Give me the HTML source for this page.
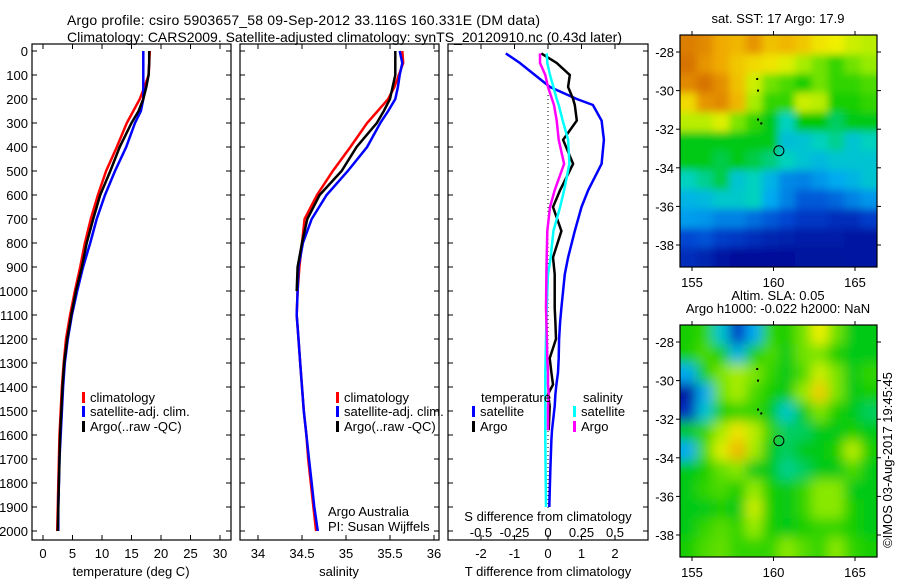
<!DOCTYPE html>
<html><head><meta charset="utf-8"><style>
html,body{margin:0;padding:0;background:#fff;}
svg{display:block;font-family:"Liberation Sans",sans-serif;}
text{fill:#000;}
</style></head><body>
<svg id="fig" width="900" height="580" viewBox="0 0 900 580">
<defs>
<filter id="blurSST" filterUnits="userSpaceOnUse" x="640" y="0" width="280" height="310"><feGaussianBlur stdDeviation="4"/></filter>
<filter id="blurSLA" filterUnits="userSpaceOnUse" x="640" y="290" width="280" height="310"><feGaussianBlur stdDeviation="6"/></filter>
<clipPath id="clipSST"><rect x="680" y="35" width="197" height="232"/></clipPath>
<clipPath id="clipSLA"><rect x="680" y="325" width="197" height="232"/></clipPath>
</defs>
<text x="67" y="25" font-size="14" text-anchor="start" textLength="473">Argo profile: csiro 5903657_58 09-Sep-2012 33.116S 160.331E (DM data)</text>
<text x="67" y="42" font-size="14" text-anchor="start" textLength="555">Climatology: CARS2009. Satellite-adjusted climatology: synTS_20120910.nc (0.43d later)</text>
<g id="layer"></g>
<text transform="translate(892,460) rotate(-90)" font-size="13" text-anchor="middle">©IMOS 03-Aug-2017 19:45:45</text>
</svg>
<script>
// ---------- data ----------
const depthTicks=[0,100,200,300,400,500,600,700,800,900,1000,1100,1200,1300,1400,1500,1600,1700,1800,1900,2000];
const tempTicks=[0,5,10,15,20,25,30];
const salTicks=[34,34.5,35,35.5,36];
const tdiffTicks=[-2,-1,0,1,2];
const sdiffTicks=[-0.5,-0.25,0,0.25,0.5];
const sdiffTickLabels=["-0.5","-0.25","0","0.25","0.5"];
const profDepth=[0,50,100,150,200,250,300,400,500,600,700,800,900,1000,1100,1200,1300,1400,1500,1600,1700,1800,1900,2000];
const tempClim=[18.1,18.0,17.9,17.2,16.4,15.3,14.2,12.5,10.7,9.3,8.1,7.1,6.3,5.4,4.6,3.9,3.5,3.2,3.0,2.8,2.7,2.6,2.5,2.4];
const tempSat=[17.0,17.0,17.0,17.0,17.0,16.6,15.6,14.1,12.2,10.5,9.1,8.0,6.8,5.8,4.9,4.2,3.7,3.4,3.2,3.0,2.8,2.7,2.6,2.6];
const tempArgo=[18.0,18.0,17.9,17.5,17.0,16.2,15.0,13.0,11.4,9.7,8.5,7.4,6.6,5.6,4.8,4.1,3.6,3.3,3.1,2.9,2.8,2.7,2.6,2.5];
const salClim=[35.64,35.65,35.6,35.55,35.48,35.36,35.24,35.05,34.85,34.67,34.53,34.5,34.47,34.45,34.44,34.46,34.48,34.5,34.52,34.55,34.57,34.6,34.63,34.66];
const salSat=[35.61,35.64,35.61,35.59,35.56,35.48,35.39,35.24,35.02,34.78,34.61,34.51,34.46,34.45,34.44,34.46,34.48,34.5,34.52,34.55,34.58,34.61,34.64,34.68];
const salArgo=[35.56,35.56,35.56,35.53,35.5,35.43,35.35,35.12,34.95,34.7,34.56,34.5,34.45,34.44];
const diffDepth=[10,50,100,150,200,225,290,370,470,580,650,750,860,930,1070,1130,1200,1280,1340,1390,1430,1480,1580,1620,1750,1900];
const tdiffSat=[-1.26,-0.84,-0.39,0.06,0.86,1.34,1.6,1.67,1.6,1.2,1.0,0.8,0.6,0.5,0.4,0.36,0.33,0.32,0.3,0.25,0.22,0.2,0.12,0.1,0.07,0.04];
const tdiffArgo=[-0.2,0.26,0.65,0.6,0.75,0.8,0.86,0.45,0.75,0.36,0.15,0.4,0.15,0.2,0.2,0.22,0.24,0.05,0.1,0.15,0.0,0.05,0.02];
const sdiffSat=[-0.01,-0.005,0.015,0.04,0.065,0.08,0.11,0.15,0.16,0.12,0.09,0.04,0.02,0.0,-0.01,-0.012,-0.015,-0.018,-0.02,-0.02,-0.02,-0.02,-0.02,-0.02,-0.018,-0.015];
const sdiffArgo=[-0.06,-0.06,-0.02,0.0,0.03,0.045,0.065,0.08,0.12,0.05,0.015,-0.005,-0.01,-0.012,-0.015,-0.012,-0.008,-0.005,0.0,0.0,0.005,0.0,0.0];
const lonTicks=[155,160,165];
const latTicks=[-28,-30,-32,-34,-36,-38];
const argoLon=160.331, argoLat=-33.116;
const sstGrid=[
[0.88,0.86,0.8,0.78,0.84,0.76,0.78,0.75,0.7,0.68,0.64,0.62],
[0.9,0.84,0.8,0.75,0.72,0.7,0.66,0.6,0.55,0.5,0.55,0.58],
[0.86,0.9,0.85,0.76,0.64,0.55,0.52,0.48,0.55,0.5,0.5,0.52],
[0.72,0.84,0.86,0.78,0.6,0.5,0.5,0.64,0.62,0.48,0.48,0.5],
[0.62,0.62,0.66,0.56,0.5,0.45,0.38,0.46,0.46,0.42,0.45,0.45],
[0.45,0.45,0.45,0.45,0.45,0.45,0.34,0.35,0.38,0.4,0.35,0.38],
[0.45,0.45,0.43,0.45,0.43,0.41,0.38,0.35,0.33,0.35,0.35,0.35],
[0.38,0.4,0.43,0.35,0.38,0.32,0.25,0.24,0.27,0.3,0.32,0.35],
[0.32,0.33,0.36,0.36,0.38,0.3,0.24,0.18,0.18,0.2,0.24,0.27],
[0.28,0.27,0.24,0.24,0.21,0.18,0.15,0.12,0.12,0.1,0.1,0.13],
[0.15,0.17,0.13,0.12,0.1,0.08,0.07,0.06,0.06,0.06,0.05,0.05],
[0.1,0.08,0.05,0.03,0.03,0.03,0.03,0.04,0.04,0.04,0.05,0.05]];
const slaGrid=[
[0.48,0.5,0.35,0.12,0.3,0.5,0.48,0.55,0.68,0.55,0.45,0.45],
[0.48,0.52,0.48,0.32,0.48,0.52,0.45,0.55,0.56,0.48,0.45,0.45],
[0.3,0.48,0.56,0.6,0.56,0.5,0.45,0.52,0.64,0.56,0.45,0.5],
[0.05,0.3,0.55,0.6,0.52,0.48,0.45,0.58,0.74,0.56,0.45,0.48],
[0.1,0.35,0.48,0.5,0.5,0.45,0.36,0.45,0.56,0.48,0.45,0.42],
[0.45,0.5,0.6,0.7,0.62,0.5,0.42,0.42,0.45,0.45,0.48,0.45],
[0.3,0.52,0.66,0.78,0.6,0.45,0.42,0.45,0.45,0.48,0.62,0.48],
[0.45,0.48,0.54,0.57,0.45,0.45,0.4,0.42,0.45,0.45,0.52,0.45],
[0.45,0.5,0.52,0.48,0.58,0.48,0.45,0.5,0.57,0.57,0.45,0.45],
[0.45,0.45,0.48,0.45,0.64,0.48,0.45,0.5,0.57,0.57,0.48,0.45],
[0.45,0.5,0.53,0.5,0.58,0.48,0.45,0.48,0.5,0.5,0.48,0.45],
[0.48,0.52,0.54,0.5,0.5,0.5,0.57,0.53,0.5,0.57,0.5,0.48]];

// ---------- helpers ----------
const NS="http://www.w3.org/2000/svg";
const layer=document.getElementById('layer');
function mk(tag,attrs,parent){const e=document.createElementNS(NS,tag);for(const k in attrs)e.setAttribute(k,attrs[k]);(parent||layer).appendChild(e);return e;}
function txt(x,y,s,size,anchor,parent){const e=mk('text',{x:x,y:y,'font-size':size,'text-anchor':anchor||'start'},parent);e.textContent=s;return e;}
const yD=d=>51+0.24*d;
const xT=t=>43+5.9*t;
const xS=s=>258+88*(s-34);
const xTd=t=>548+33.5*t;
const xSd=s=>548+134*s;
const xLon=l=>692+(l-155)*16.3;
const yLatTop=l=>52+(-28-l)*19.3;
const yLatBot=l=>342+(-28-l)*19.3;

function panel(x0,x1,name){
  const r=mk('rect',{x:x0,y:44,width:x1-x0,height:496,fill:'none',stroke:'#000','stroke-width':1.2});
  
  
  depthTicks.forEach(d=>{
    mk('line',{x1:x0,x2:x0+5,y1:yD(d),y2:yD(d),stroke:'#000'});
    mk('line',{x1:x1-5,x2:x1,y1:yD(d),y2:yD(d),stroke:'#000'});
  });
}
function xticks(vals,fx,labels){
  vals.forEach((v,i)=>{const x=fx(v);
    mk('line',{x1:x,x2:x,y1:540,y2:535,stroke:'#000'});
    mk('line',{x1:x,x2:x,y1:44,y2:49,stroke:'#000'});
    const t=txt(x,558,labels?labels[i]:String(v),13,'middle');
    
    
  });
}
function line(xs,ds,fx,color,w,name){
  const pts=xs.map((v,i)=>fx(v).toFixed(1)+','+yD(ds[i]).toFixed(1)).join(' ');
  const p=mk('polyline',{points:pts,fill:'none',stroke:color,'stroke-width':w,'stroke-linejoin':'miter'});
  
  
}
function legendEntry(x,y,color,label){
  const g=mk('g',{});
  
  
  mk('rect',{x:x,y:y-10,width:3,height:11,fill:color},g);
  txt(x+8,y,label,13,'start',g);
}

// ---------- panel 1: temperature ----------
panel(32,231,'temperature-panel');
depthTicks.forEach(d=>{const t=txt(28,yD(d)+5,String(d),13,'end');
  
  });
xticks(tempTicks,xT);
txt(131,576,'temperature (deg C)',13,'middle');
line(tempClim,profDepth,xT,'#ff0000',2.5,'temp-climatology-line');
line(tempSat,profDepth,xT,'#0000ff',2.5,'temp-satellite-line');
line(tempArgo,profDepth,xT,'#000000',2.5,'temp-argo-line');
legendEntry(82,402,'#ff0000','climatology');
legendEntry(82,416,'#0000ff','satellite-adj. clim.');
legendEntry(82,431,'#000000','Argo(..raw -QC)');

// ---------- panel 2: salinity ----------
panel(240,439,'salinity-panel');
xticks(salTicks,xS);
txt(339,576,'salinity',13,'middle');
line(salClim,profDepth,xS,'#ff0000',2.5,'sal-climatology-line');
line(salSat,profDepth,xS,'#0000ff',2.5,'sal-satellite-line');
line(salArgo,profDepth.slice(0,salArgo.length),xS,'#000000',2.5,'sal-argo-line');
legendEntry(336,402,'#ff0000','climatology');
legendEntry(336,416,'#0000ff','satellite-adj. clim.');
legendEntry(336,431,'#000000','Argo(..raw -QC)');
txt(328,516,'Argo Australia',13,'start');
txt(328,531,'PI: Susan Wijffels',13,'start');

// ---------- panel 3: differences ----------
panel(448,648,'difference-panel');
xticks(tdiffTicks,xTd);
txt(548,576,'T difference from climatology',13,'middle');
txt(548,521,'S difference from climatology',13,'middle');
sdiffTicks.forEach((v,i)=>{const t=txt(xSd(v),537,sdiffTickLabels[i],13,'middle');
  
  });
mk('line',{x1:548,x2:548,y1:95,y2:510,stroke:'#000','stroke-width':1,'stroke-dasharray':'1,3'});
line(tdiffSat,diffDepth,xTd,'#0000ff',2.5,'tdiff-satellite-line');
line(tdiffArgo,diffDepth.slice(0,tdiffArgo.length),xTd,'#000000',2.5,'tdiff-argo-line');
line(sdiffSat,diffDepth,xSd,'#00ffff',2.5,'sdiff-satellite-line');
line(sdiffArgo,diffDepth.slice(0,sdiffArgo.length),xSd,'#ff00ff',2.5,'sdiff-argo-line');
txt(481,402,'temperature',13,'start');
txt(583,402,'salinity',13,'start');
legendEntry(472,416,'#0000ff','satellite');
legendEntry(472,431,'#000000','Argo');
legendEntry(573,416,'#00ffff','satellite');
legendEntry(573,431,'#ff00ff','Argo');

// ---------- maps ----------
const stops=[[0,[0,0,140]],[0.15,[0,70,210]],[0.3,[0,170,240]],[0.38,[0,210,190]],[0.46,[0,200,0]],[0.58,[150,235,0]],[0.68,[240,240,0]],[0.8,[240,170,0]],[1,[190,60,0]]];
function cmap(v){for(let i=1;i<stops.length;i++){if(v<=stops[i][0]){const a=stops[i-1],b=stops[i],f=(v-a[0])/(b[0]-a[0]);
  return 'rgb('+a[1].map((c,k)=>Math.round(c+(b[1][k]-c)*f)).join(',')+')';}}return 'rgb(190,60,0)';}
function drawMap(grid,top,clip,filt,yLat,name,titleLines){
  const g=mk('g',{'clip-path':'url(#'+clip+')'});
  
  
  const inner=mk('g',{filter:'url(#'+filt+')'},g);
  const cw=197/12, ch=232/12, n=grid.length, pad=24;
  grid.forEach((row,r)=>row.forEach((v,c)=>{
    // extend edge cells outward so blur doesn't fade at edges
    const x0=680+c*cw-(c===0?pad:0), x1=680+(c+1)*cw+(c===row.length-1?pad:0.6);
    const y0=top+r*ch-(r===0?pad:0), y1=top+(r+1)*ch+(r===n-1?pad:0.6);
    const cell=mk('rect',{x:x0,y:y0,width:x1-x0,height:y1-y0,fill:cmap(v)},inner);
    
    
  }));
  [[159,-29.4],[159.05,-30],[159.05,-31.5],[159.25,-31.7]].forEach(p=>mk('rect',{x:xLon(p[0])-1,y:yLat(p[1])-1,width:2,height:2,fill:'#000'},g));
  mk('rect',{x:680,y:top,width:197,height:232,fill:'none',stroke:'#000','stroke-width':1.2});
  const m=mk('circle',{cx:xLon(argoLon),cy:yLat(argoLat),r:5,fill:'none',stroke:'#000','stroke-width':1});
  
  
  lonTicks.forEach(l=>{const x=xLon(l);
    mk('line',{x1:x,x2:x,y1:top-4,y2:top,stroke:'#000'});
    mk('line',{x1:x,x2:x,y1:top+232,y2:top+236,stroke:'#000'});
    const t=txt(x,top+252,String(l),13,'middle');
    
    });
  latTicks.forEach(l=>{const y=yLat(l);
    mk('line',{x1:676,x2:680,y1:y,y2:y,stroke:'#000'});
    mk('line',{x1:877,x2:881,y1:y,y2:y,stroke:'#000'});
    const t=txt(674,y+5,String(l),13,'end');
    
    });
  titleLines.forEach((s,i)=>{const t=txt(778,top-12-(titleLines.length-1-i)*13,s,13,'middle');
    
    });
}
drawMap(sstGrid,35,'clipSST','blurSST',yLatTop,'sst-map',['sat. SST: 17 Argo: 17.9']);
drawMap(slaGrid,325,'clipSLA','blurSLA',yLatBot,'sla-map',['Altim. SLA: 0.05','Argo h1000: -0.022 h2000: NaN']);
</script>
</body></html>
